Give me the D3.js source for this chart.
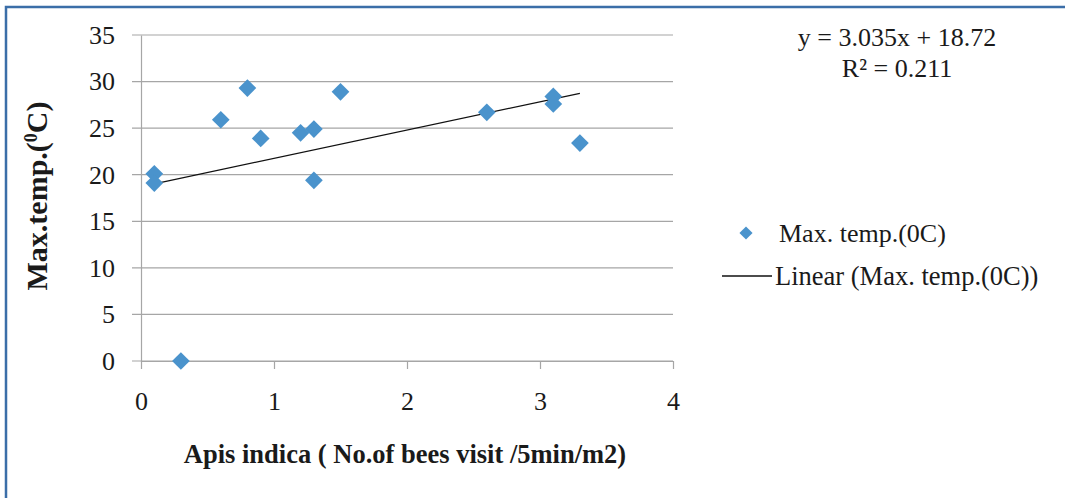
<!DOCTYPE html>
<html>
<head>
<meta charset="utf-8">
<script src="https://cdn.jsdelivr.net/npm/d3@7"></script>
<style>
  body { margin: 0; background: #fff; }
  svg text { font-family: "Liberation Serif", "Times New Roman", serif; fill: #1a1a1a; }
</style>
</head>
<body>
<div id="chart"></div>
<script>
// data
const beeVisits = [0.1, 0.1, 0.3, 0.6, 0.8, 0.9, 1.2, 1.3, 1.3, 1.5, 2.6, 3.1, 3.1, 3.3];
const maxTemp   = [20.1, 19.1, 0, 25.9, 29.3, 23.9, 24.5, 24.9, 19.4, 28.9, 26.7, 28.4, 27.6, 23.4];
const xTicks = [0, 1, 2, 3, 4];
const yTicks = [0, 5, 10, 15, 20, 25, 30, 35];
const slope = 3.035, intercept = 18.72;
const eqLines = ['y = 3.035x + 18.72', 'R\u00B2 = 0.211'];
const legendLabels = ['Max. temp.(0C)', 'Linear (Max. temp.(0C))'];

const width = 1068, height = 498;
const margin = {left: 141, right: 395, top: 35, bottom: 137};
const serif = 'Liberation Serif';

const svg = d3.select('#chart').append('svg')
    .attr('width', width)
    .attr('height', height)
    .attr('font-family', serif);

// frame (only top + left edges visible)
svg.append('path')
    .attr('d', 'M6,' + height + 'V7H1065')
    .attr('fill', 'none')
    .attr('stroke', '#3b6ea8')
    .attr('stroke-width', 2.5);

const xScale = d3.scaleLinear().domain([0, 4]).range([margin.left, width - margin.right]);
const yScale = d3.scaleLinear().domain([0, 35]).range([height - margin.bottom, margin.top]);

//gridlines
svg.append('g')
    .selectAll('line')
    .data(yTicks)
    .enter()
    .append('line')
    .attr('x1', margin.left - 9)
    .attr('x2', xScale(4))
    .attr('y1', d => yScale(d))
    .attr('y2', d => yScale(d))
    .attr('stroke', '#a6a6a6')
    .attr('stroke-width', 1.2);

// y axis
const yAxis = d3.axisLeft(yScale).tickValues(yTicks).tickFormat(d3.format('d')).tickSize(0).tickPadding(26);
const gy = svg.append('g')
    .attr('transform', 'translate(' + margin.left + ',0)')
    .call(yAxis)
    .attr('font-family', serif)
    .attr('font-size', 26);
gy.select('.domain').attr('stroke', '#a6a6a6').attr('stroke-width', 1.2);
gy.selectAll('text').attr('fill', '#1a1a1a');

// x axis
const xAxis = d3.axisBottom(xScale).tickValues(xTicks).tickFormat(d3.format('d'))
    .tickSizeInner(8).tickSizeOuter(0).tickPadding(23);
const gx = svg.append('g')
    .attr('transform', 'translate(0,' + yScale(0) + ')')
    .call(xAxis)
    .attr('font-family', serif)
    .attr('font-size', 26);
gx.select('.domain').attr('stroke', '#a6a6a6').attr('stroke-width', 1.2);
gx.selectAll('.tick line').attr('stroke', '#a6a6a6').attr('stroke-width', 1.2);
gx.selectAll('text').attr('fill', '#1a1a1a');

// trend line
const xMin = d3.min(beeVisits), xMax = d3.max(beeVisits);
svg.append('line')
    .attr('x1', xScale(xMin))
    .attr('y1', yScale(slope * xMin + intercept))
    .attr('x2', xScale(xMax))
    .attr('y2', yScale(slope * xMax + intercept))
    .attr('stroke', '#111')
    .attr('stroke-width', 1.3);

// points
const diamond = d3.symbol().type(d3.symbolDiamond2).size(200);
svg.selectAll('.pt')
    .data(beeVisits)
    .enter()
    .append('path')
    .attr('class', 'pt')
    .attr('d', diamond)
    .attr('transform', (d, i) => 'translate(' + xScale(d) + ',' + yScale(maxTemp[i]) + ')')
    .attr('fill', '#4a93cc');

// equation
svg.selectAll('.eq')
    .data(eqLines)
    .enter()
    .append('text')
    .attr('x', 897)
    .attr('y', (d, i) => 46 + i * 31)
    .attr('text-anchor', 'middle')
    .style('font-size', '26px')
    .text(d => d);

// legend
svg.append('path')
    .attr('d', d3.symbol().type(d3.symbolDiamond2).size(110))
    .attr('transform', 'translate(746,233)')
    .attr('fill', '#4a93cc');
svg.append('text')
    .attr('x', 779).attr('y', 242)
    .style('font-size', '26px')
    .text(legendLabels[0]);
svg.append('line')
    .attr('x1', 722).attr('x2', 772)
    .attr('y1', 276).attr('y2', 276)
    .attr('stroke', '#111').attr('stroke-width', 1.3);
svg.append('text')
    .attr('x', 775).attr('y', 285)
    .style('font-size', '26.5px')
    .text(legendLabels[1]);

// axis titles
svg.append('text')
    .attr('x', 405).attr('y', 463)
    .attr('text-anchor', 'middle')
    .style('font-size', '26.5px')
    .style('font-weight', 'bold')
    .text('Apis indica ( No.of bees visit /5min/m2)');

const yt = svg.append('text')
    .attr('transform', 'translate(47,196) rotate(-90)')
    .attr('text-anchor', 'middle')
    .style('font-size', '30px')
    .style('font-weight', 'bold');
yt.append('tspan').text('Max.temp.(');
yt.append('tspan').attr('dy', -10).style('font-size', '18px').text('0');
yt.append('tspan').attr('dy', 10).text('C)');
</script>
</body>
</html>
